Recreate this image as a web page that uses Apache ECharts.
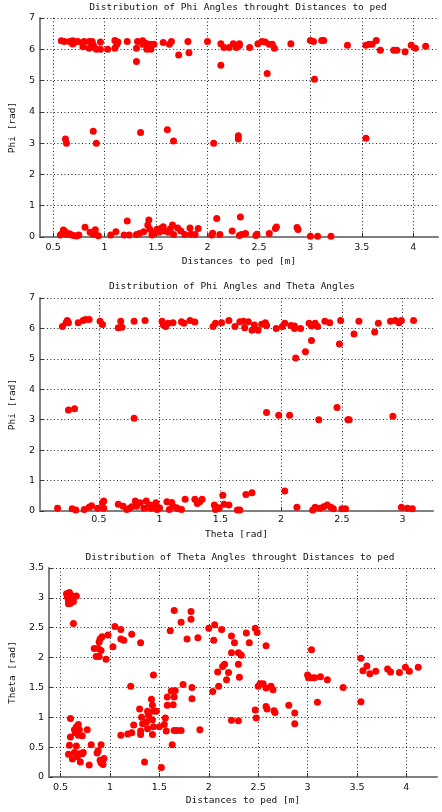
<!DOCTYPE html>
<head>
    <meta charset="utf-8"/>
    <style>
        html,body { height:100%; width:100%; margin:0; padding:0; background:#fff; }
    </style>
</head>
<body>

<div id="chart" style="width: 442px;height:812px;"></div>

<script src="https://cdn.jsdelivr.net/npm/echarts@6/dist/echarts.min.js"></script>
<script type="text/javascript">

 // titles and axis names
 var titles = ['Distribution of Phi Angles throught Distances to ped',
               'Distribution of Phi Angles and Theta Angles',
               'Distribution of Theta Angles throught Distances to ped'];
 var xNames = ['Distances to ped [m]', 'Theta [rad]', 'Distances to ped [m]'];
 var yNames = ['Phi [rad]', 'Phi [rad]', 'Theta [rad]'];

 // [distance, phi]
 var phiByDist = [
  [0.58,6.27],[0.61,6.25],[0.66,6.25],[0.69,6.27],[0.72,6.23],[0.74,6.25],[0.80,6.25],[0.79,6.17],[0.69,6.17],[0.85,6.25],
  [0.79,6.08],[0.85,6.03],[0.88,6.25],[0.89,6.14],[0.92,6.00],[0.90,6.06],[0.96,6.00],[0.96,6.23],[1.03,6.00],[1.10,6.28],
  [1.10,6.03],[1.12,6.16],[1.13,6.23],[1.22,6.25],[1.31,6.03],[1.31,5.61],[1.32,6.25],[1.37,6.27],[1.37,6.16],[1.40,6.19],
  [1.41,6.00],[1.45,6.00],[1.44,6.16],[1.48,6.16],[1.57,6.22],[1.63,6.16],[1.65,6.25],[1.72,5.82],[1.81,6.25],[1.82,5.89],
  [2.00,6.25],[2.13,6.18],[2.13,5.49],[2.16,6.06],[2.21,6.06],[2.25,6.18],[2.28,6.06],[2.31,6.18],[2.31,6.12],[2.41,6.06],
  [2.49,6.18],[2.53,6.25],[2.56,6.23],[2.60,6.16],[2.63,6.16],[2.65,6.03],[2.58,5.23],[2.81,6.18],[3.00,6.28],[3.03,6.25],
  [3.04,5.04],[3.11,6.28],[3.13,6.28],[3.36,6.13],[3.54,6.13],[3.57,6.16],[3.60,6.16],[3.64,6.28],[3.68,5.97],[3.81,5.97],
  [3.84,5.97],[3.92,5.92],[3.98,6.13],[4.02,6.03],[4.12,6.10],
  [0.62,3.13],[0.63,3.00],[0.89,3.38],[0.92,3.00],[1.35,3.34],[1.61,3.43],[1.67,3.07],[2.06,3.00],[2.30,3.24],[2.30,3.13],
  [3.54,3.16],
  [0.60,0.22],[0.59,0.12],[0.57,0.06],[0.63,0.08],[0.68,0.06],[0.71,0.04],[0.75,0.06],[0.81,0.31],[0.86,0.15],[0.89,0.08],
  [0.91,0.23],[0.94,0.04],[1.06,0.06],[1.11,0.17],[1.22,0.51],[1.19,0.06],[1.24,0.06],[1.31,0.08],[1.34,0.11],[1.38,0.17],
  [1.43,0.54],[1.42,0.38],[1.44,0.25],[1.46,0.06],[1.51,0.25],[1.53,0.15],[1.57,0.33],[1.58,0.19],[1.62,0.15],[1.66,0.38],
  [1.67,0.08],[1.71,0.29],[1.74,0.19],[1.78,0.08],[1.83,0.29],[1.84,0.09],[1.91,0.27],[1.88,0.08],[2.04,0.06],[2.05,0.12],
  [2.09,0.59],[2.12,0.08],[2.24,0.19],[2.32,0.64],[2.33,0.08],[2.31,0.05],[2.37,0.11],[2.47,0.05],[2.48,0.09],[2.60,0.11],
  [2.66,0.27],[2.67,0.32],[2.87,0.30],[2.88,0.24],[3.00,0.02],[3.07,0.02],[3.20,0.02],
  [0.62,0.16],[0.66,0.10],[0.73,0.03],[0.90,0.13],[1.48,0.12],[1.55,0.28],[1.64,0.26]
 ];

 // [theta, phi]
 var phiByTheta = [
  [0.20,6.06],[0.23,6.19],[0.24,6.26],[0.25,6.19],[0.33,6.19],[0.37,6.26],[0.39,6.29],[0.42,6.29],[0.51,6.24],[0.53,6.13],
  [0.66,6.02],[0.68,6.24],[0.69,6.04],[0.79,6.24],[0.88,6.26],[1.02,6.24],[1.05,6.06],[1.07,6.17],[1.11,6.19],[1.20,6.17],
  [1.25,6.26],[1.29,6.21],[1.44,6.06],[1.46,6.17],[1.51,6.19],[1.57,6.26],[1.62,6.06],[1.66,6.22],[1.69,6.24],[1.73,6.22],
  [1.76,5.94],[1.78,6.11],[1.81,5.94],[1.87,6.19],[1.88,6.10],[1.96,6.00],[2.01,6.06],[2.03,6.17],[2.08,6.10],[2.11,6.08],
  [2.11,6.00],[2.16,6.00],[2.23,6.17],[2.25,6.08],[2.28,6.17],[2.30,6.06],[2.36,6.24],[2.40,6.19],[2.49,6.26],[2.48,5.49],
  [2.64,6.24],[2.60,5.82],[2.77,5.88],[2.80,6.17],[2.90,6.24],[2.94,6.26],[2.97,6.19],[2.99,6.26],[3.09,6.26],[2.12,5.03],
  [2.20,5.23],[2.25,5.60],[1.03,6.12],[1.18,6.22],[1.70,6.02],[1.84,6.14],
  [0.25,3.32],[0.30,3.36],[0.79,3.05],[1.88,3.24],[1.98,3.15],[2.07,3.15],[2.31,3.00],[2.46,3.40],[2.55,3.00],[2.56,3.00],
  [2.92,3.11],
  [0.16,0.09],[0.28,0.07],[0.31,0.03],[0.38,0.05],[0.42,0.12],[0.44,0.17],[0.49,0.09],[0.53,0.27],[0.54,0.33],[0.54,0.09],
  [0.66,0.22],[0.70,0.16],[0.73,0.05],[0.77,0.14],[0.80,0.33],[0.81,0.16],[0.84,0.27],[0.87,0.09],[0.89,0.33],[0.92,0.20],
  [0.93,0.09],[0.96,0.20],[0.97,0.27],[0.98,0.05],[1.06,0.30],[1.08,0.05],[1.11,0.16],[1.14,0.11],[1.18,0.05],[1.21,0.39],
  [1.29,0.39],[1.31,0.25],[1.35,0.39],[1.45,0.20],[1.46,0.05],[1.49,0.09],[1.52,0.52],[1.53,0.22],[1.57,0.20],[1.64,0.03],
  [1.66,0.03],[1.71,0.54],[1.76,0.60],[2.03,0.66],[2.13,0.12],[2.26,0.03],[2.28,0.12],[2.32,0.09],[2.35,0.14],[2.38,0.20],
  [2.41,0.12],[2.43,0.07],[2.50,0.07],[2.53,0.07],[2.99,0.12],[3.04,0.09],[3.08,0.07],
  [0.75,0.08],[0.90,0.12],[1.00,0.10],[1.10,0.28],[1.15,0.07],[1.33,0.30],[1.47,0.12]
 ];

 // [distance, theta]
 var thetaByDist = [
  [0.56,3.07],[0.59,3.09],[0.61,3.04],[0.58,2.96],[0.60,2.91],[0.63,2.94],[0.66,3.03],[0.57,3.01],[0.62,2.98],[0.58,2.90],
  [0.63,2.57],
  [0.84,2.15],[0.88,2.15],[0.91,2.12],[0.86,2.02],[0.89,2.02],[0.96,1.97],[0.89,2.26],[0.90,2.31],[0.92,2.35],[0.98,2.38],
  [1.03,2.18],[1.05,2.52],[1.11,2.47],[1.11,2.31],[1.14,2.29],[1.22,2.39],[1.31,2.25],
  [1.65,2.79],[1.82,2.77],[1.72,2.59],[1.82,2.64],[1.61,2.45],[1.78,2.31],[1.89,2.33],[2.00,2.49],[2.06,2.55],[2.13,2.47],
  [2.05,2.29],[2.23,2.36],[2.26,2.25],[2.23,2.08],[2.30,2.08],[2.30,1.89],[2.16,1.89],[2.14,1.85],[2.09,1.76],[2.20,1.75],
  [2.18,1.63],[2.10,1.52],[2.04,1.43],[2.31,1.67],
  [1.44,1.71],[1.21,1.52],[1.74,1.55],[1.83,1.50],[1.83,1.31],[1.62,1.44],[1.66,1.45],[1.58,1.34],[1.65,1.34],[1.64,1.21],
  [1.58,1.20],[1.42,1.30],[1.30,1.14],[1.43,1.20],[1.32,1.00],[1.38,1.10],[1.39,1.03],[1.44,1.10],[1.43,0.96],[1.37,0.92],
  [1.33,0.89],[1.24,0.87],[1.47,1.10],[1.44,0.84],[1.50,0.84],[1.55,0.88],[1.57,0.77],[1.65,0.78],[1.68,0.78],[1.72,0.78],
  [1.91,0.79],[1.11,0.70],[1.18,0.72],[1.22,0.74],[1.31,0.77],[1.31,0.71],[1.43,0.71],[1.63,0.54],[1.35,0.25],[1.52,0.16],
  [1.56,0.99],[1.38,0.81],[2.23,0.95],[2.30,0.94],
  [0.60,0.98],[0.68,0.88],[0.66,0.84],[0.64,0.79],[0.69,0.79],[0.65,0.74],[0.68,0.70],[0.72,0.69],[0.77,0.79],[0.60,0.67],
  [0.59,0.53],[0.66,0.52],[0.81,0.54],[0.91,0.54],[0.88,0.44],[0.87,0.40],[0.58,0.38],[0.64,0.41],[0.69,0.39],[0.72,0.39],
  [0.73,0.41],[0.62,0.30],[0.70,0.25],[0.79,0.20],[0.90,0.28],[0.93,0.21],[0.94,0.31],[0.91,0.24],[0.67,0.34],
  [2.38,2.41],[2.47,2.49],[2.49,2.42],[2.41,2.25],[2.58,2.20],[2.33,2.04],[2.50,1.52],[2.52,1.56],[2.55,1.56],[2.58,1.49],
  [2.63,1.52],[2.65,1.46],[2.47,1.12],[2.48,0.99],[2.58,1.18],[2.59,1.14],[2.66,1.11],[2.67,1.08],[2.81,1.20],[2.87,1.07],
  [2.87,0.89],[3.04,2.13],[3.00,1.71],[3.01,1.66],[3.04,1.66],[3.07,1.66],[3.13,1.68],[3.20,1.63],[3.36,1.50],[3.10,1.25],
  [3.54,1.99],[3.60,1.86],[3.56,1.78],[3.63,1.73],[3.69,1.77],[3.81,1.81],[3.84,1.76],[3.93,1.75],[3.99,1.84],[4.03,1.77],
  [4.12,1.84],[3.54,1.26]
 ];

 var plots = [phiByDist, phiByTheta, thetaByDist];
 // x ranges read from the frame edges
 var xMin = [0.372, 0.015, 0.383];
 var xMax = [4.24, 3.25, 4.31];
 var yMax = [7, 7, 3.5];
 var yStep = [1, 1, 0.5];

 var grids = [
    {left: 35, top: 18, width: 403, height: 219},
    {left: 36, top: 298, width: 397, height: 213},
    {left: 46, top: 568, width: 391, height: 209}
 ];
 var titleCx = [238, 232, 240];
 var titleTop = [3, 282, 553];
 var yNameGap = [17, 17, 28];
 var xLabelMargin = [6, 4, 6];
 var xNameGap = [20, 19, 19];

 var monoFont = 'DejaVu Sans Mono';
 var tickFont = 'DejaVu Sans';
 var chart = echarts.init(document.getElementById('chart'));

 var option = {
    animation: false,
    backgroundColor: '#fff',
    title: [], grid: [], xAxis: [], yAxis: [], series: []
 };

 for (var i = 0; i < 3; i++) {
    option.title.push({
        text: titles[i],
        left: titleCx[i], top: titleTop[i], textAlign: 'center', padding: 0,
        textStyle: {fontFamily: monoFont, fontSize: 9.5, fontWeight: 'normal', color: '#111'}
    });
    option.grid.push(grids[i]);
    option.xAxis.push({
        gridIndex: i, type: 'value', min: xMin[i], max: xMax[i], splitNumber: 8,
        name: xNames[i], nameLocation: 'middle', nameGap: xNameGap[i],
        nameTextStyle: {fontFamily: monoFont, fontSize: 9.5, color: '#111'},
        axisLine: {onZero: false, lineStyle: {color: '#808080', width: 2}},
        axisTick: {inside: true, length: 4, lineStyle: {color: '#333'}},
        axisLabel: {margin: xLabelMargin[i], showMinLabel: false, showMaxLabel: false,
                    fontFamily: tickFont, fontSize: 9.5, color: '#111'},
        splitLine: {show: true, showMinLine: false, showMaxLine: false,
                    lineStyle: {color: '#222', type: [1, 2.5], width: 1}}
    });
    option.yAxis.push({
        gridIndex: i, type: 'value', min: 0, max: yMax[i], interval: yStep[i],
        name: yNames[i], nameLocation: 'middle', nameGap: yNameGap[i],
        nameTextStyle: {fontFamily: monoFont, fontSize: 9.5, color: '#111'},
        axisLine: {show: true, lineStyle: {color: '#808080', width: 2}},
        axisTick: {show: true, inside: true, length: 4, lineStyle: {color: '#333'}},
        axisLabel: {margin: 5, fontFamily: tickFont, fontSize: 9.5, color: '#111'},
        splitLine: {show: true, showMinLine: false,
                    lineStyle: {color: '#222', type: [1, 2.5], width: 1}}
    });
    option.series.push({
        type: 'scatter', xAxisIndex: i, yAxisIndex: i,
        symbol: 'circle', symbolSize: 7,
        itemStyle: {color: '#ff0000', opacity: 1},
        data: plots[i]
    });
 }

 chart.setOption(option);

</script>
</body>
